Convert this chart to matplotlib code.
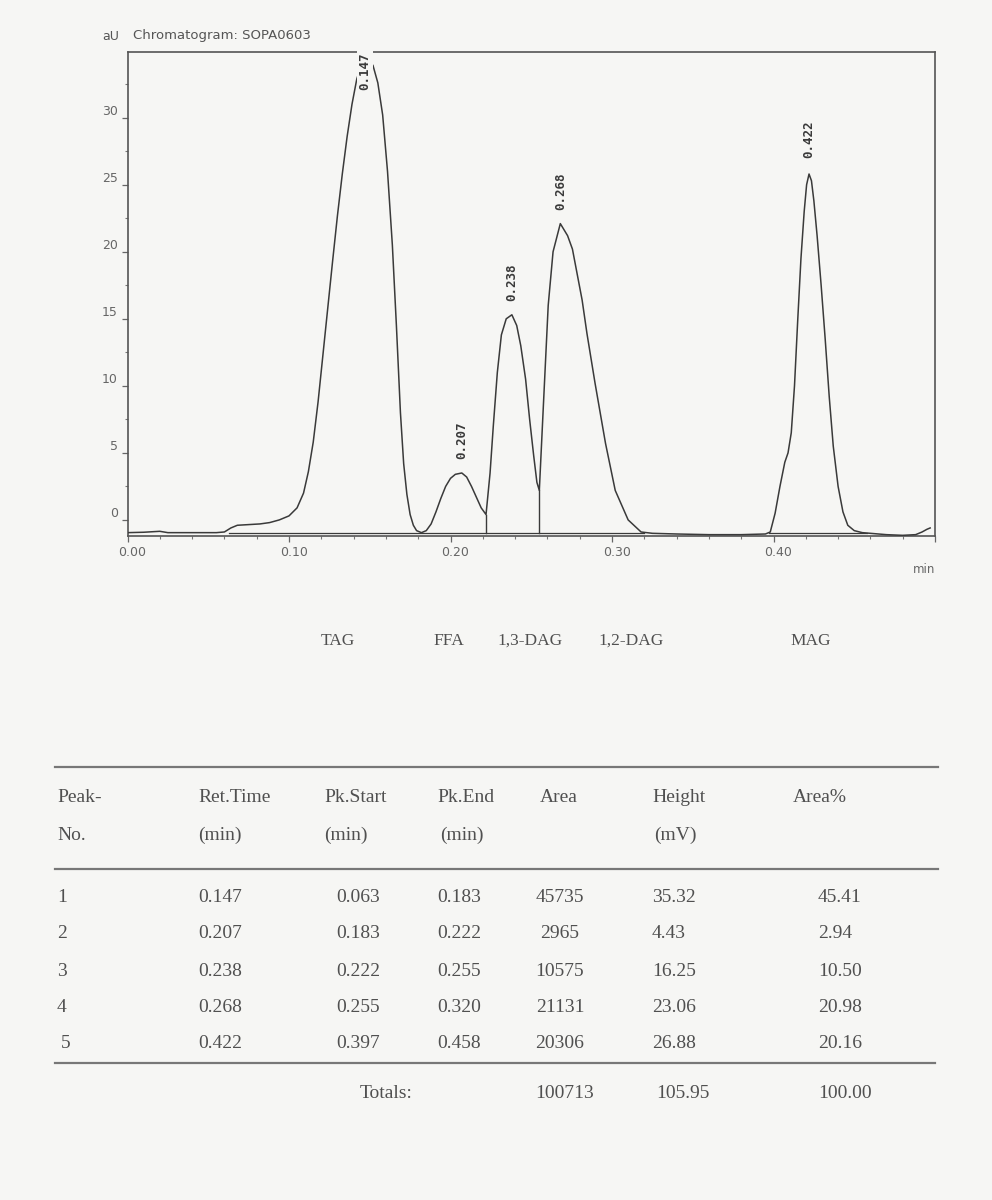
import matplotlib
matplotlib.use("Agg")
import matplotlib.pyplot as plt
import matplotlib.transforms as mtrans
import numpy as np

# trace (min, signal)
trace_t = [0.000, 0.010, 0.020, 0.025, 0.040, 0.055, 0.060, 0.064, 0.068, 0.075, 0.082, 0.088, 0.094,
           0.100, 0.105, 0.109, 0.112, 0.115, 0.118, 0.121, 0.124, 0.127, 0.130, 0.133, 0.136, 0.139,
           0.142, 0.145, 0.147, 0.149, 0.152, 0.155, 0.158, 0.161, 0.164, 0.1665, 0.169, 0.171, 0.173,
           0.175, 0.177, 0.179, 0.182,
           0.185, 0.188, 0.191, 0.194, 0.197, 0.200, 0.203, 0.207, 0.210, 0.213, 0.216, 0.219, 0.222,
           0.2245, 0.2265, 0.229, 0.2315, 0.2345, 0.238, 0.241, 0.2435, 0.2465, 0.249, 0.2515, 0.2535, 0.255,
           0.2575, 0.2605, 0.2635, 0.268, 0.2725, 0.2755, 0.2815, 0.2845, 0.2895, 0.296, 0.302, 0.310, 0.318,
           0.325, 0.340, 0.360, 0.380, 0.395, 0.398,
           0.401, 0.404, 0.407, 0.409, 0.411, 0.413, 0.415, 0.417, 0.419, 0.4205, 0.422, 0.4235, 0.425,
           0.427, 0.4295, 0.432, 0.4345, 0.437, 0.440, 0.443, 0.446, 0.450, 0.455, 0.460, 0.470, 0.480,
           0.488, 0.492, 0.495, 0.497]
trace_v = [-0.95, -0.92, -0.85, -0.95, -0.95, -0.95, -0.9, -0.6, -0.4, -0.35, -0.3, -0.2, 0.0,
           0.3, 0.9, 2.0, 3.6, 5.8, 8.8, 12.3, 15.8, 19.3, 22.7, 25.8, 28.6, 31.0,
           32.9, 34.0, 34.4, 34.3, 33.9, 32.6, 30.2, 26.0, 20.5, 14.5, 8.0, 4.2, 1.9,
           0.4, -0.4, -0.8, -0.95,
           -0.8, -0.3, 0.6, 1.6, 2.5, 3.1, 3.4, 3.5, 3.2, 2.5, 1.7, 0.9, 0.4,
           3.5, 7.0, 11.0, 13.8, 15.0, 15.3, 14.5, 13.0, 10.5, 7.5, 4.8, 2.8, 2.2,
           8.5, 16.0, 20.0, 22.1, 21.2, 20.2, 16.4, 13.9, 10.2, 5.7, 2.2, 0.0, -0.9,
           -1.0, -1.05, -1.1, -1.1, -1.05, -0.9,
           0.5, 2.5, 4.3, 5.0, 6.5, 10.0, 14.9, 19.5, 23.0, 25.0, 25.8, 25.3, 23.8,
           21.2, 17.5, 13.5, 9.2, 5.5, 2.5, 0.6, -0.4, -0.8, -0.95, -1.0, -1.1, -1.15,
           -1.1, -0.9, -0.7, -0.6]

# peak table
peak_no = ["1", "2", "3", "4", "5"]
ret_time = [0.147, 0.207, 0.238, 0.268, 0.422]
pk_start = [0.063, 0.183, 0.222, 0.255, 0.397]
pk_end = [0.183, 0.222, 0.255, 0.320, 0.458]
area = [45735, 2965, 10575, 21131, 20306]
height = [35.32, 4.43, 16.25, 23.06, 26.88]
area_pct = [45.41, 2.94, 10.50, 20.98, 20.16]
totals = ["100713", "105.95", "100.00"]
components = ["TAG", "FFA", "1,3-DAG", "1,2-DAG", "MAG"]
baseline_level = -0.95

W, H = 992, 1200
bg = "#f6f6f4"
ink = "#3a3a3a"
txt = "#505050"

fig = plt.figure(figsize=(W / 100, H / 100), dpi=100, facecolor=bg)


def fx(px):
    return px / W


def fy(py):
    return 1 - py / H


ax = fig.add_axes([fx(127.5), fy(536), fx(935) - fx(127.5), fy(52) - fy(536)])
ax.set_facecolor(bg)
ax.plot(trace_t, trace_v, color=ink, lw=1.1, zorder=3)

# integration baseline and drop lines
ax.plot([pk_start[0], pk_end[3]], [baseline_level, baseline_level], color=ink, lw=0.9, zorder=2)
ax.plot([pk_start[4], pk_end[4]], [baseline_level, baseline_level], color=ink, lw=0.9, zorder=2)
for t in [pk_end[1], pk_end[2]]:
    i = trace_t.index(t)
    ax.plot([t, t], [baseline_level, trace_v[i]], color=ink, lw=1.0, zorder=2)

ax.set_xlim(0, 0.50)
ax.set_ylim(-1.2, 34.9)
ax.set_xticks([0.0, 0.1, 0.2, 0.3, 0.4, 0.5])
ax.set_xticklabels(["0.00", "0.10", "0.20", "0.30", "0.40", ""])
ax.set_xticks(np.arange(0, 0.501, 0.02), minor=True)
ax.set_yticks([0, 5, 10, 15, 20, 25, 30])
ax.set_yticks(np.arange(0, 34, 2.5), minor=True)
ax.tick_params(axis="both", which="major", direction="out", length=4, width=0.9,
               colors="#666666", labelsize=9, pad=3)
ax.tick_params(axis="both", which="minor", direction="out", length=2.5, width=0.8, colors="#777777")
shift = mtrans.ScaledTranslation(5 / 100, 0, fig.dpi_scale_trans)
for lab in ax.get_xticklabels():
    lab.set_transform(lab.get_transform() + shift)
for lab in ax.get_yticklabels():
    lab.set_verticalalignment("bottom")
for s in ax.spines.values():
    s.set_color("#555555")
    s.set_linewidth(1.2)
ax.text(0.5, -3.2, "min", ha="right", va="top", fontsize=8.5, color="#666666")

# retention time labels
for rt, h in zip(ret_time, height):
    pv = h + baseline_level
    if pv > 30:
        ax.text(rt, 34.9, f"{rt:.3f}", rotation=90, ha="center", va="top",
                family="DejaVu Sans Mono", fontweight="bold", fontsize=9, color=ink, zorder=5,
                bbox=dict(boxstyle="square,pad=0.1", fc=bg, ec="none"), clip_on=False)
    else:
        ax.annotate(f"{rt:.3f}", (rt, pv), xytext=(0, 10), textcoords="offset points",
                    rotation=90, ha="center", va="bottom", family="DejaVu Sans Mono",
                    fontweight="bold", fontsize=9, color=ink)

fig.text(fx(102), fy(36), "aU", fontsize=9, color="#555555", va="center")
fig.text(fx(133), fy(35), "Chromatogram: SOPA0603", fontsize=9.5, color="#555555", va="center")

# component names under the chart
comp_x = [338, 449, 530, 631, 811]
for name, x in zip(components, comp_x):
    fig.text(fx(x), fy(641), name, ha="center", va="center", family="Liberation Serif",
             fontsize=12.5, color=txt)

# peak table
serif = dict(family="Liberation Serif", fontsize=14, color=txt, va="center")
rule = dict(color="#777777", lw=1.6)
fig.add_artist(plt.Line2D([fx(55), fx(938)], [fy(767), fy(767)], transform=fig.transFigure, **rule))
fig.add_artist(plt.Line2D([fx(55), fx(938)], [fy(869), fy(869)], transform=fig.transFigure, **rule))
fig.add_artist(plt.Line2D([fx(55), fx(935)], [fy(1063), fy(1063)], transform=fig.transFigure, **rule))

head1 = ["Peak-", "Ret.Time", "Pk.Start", "Pk.End", "Area", "Height", "Area%"]
head2 = ["No.", "(min)", "(min)", "(min)", "", "(mV)", ""]
head_x = [57, 198, 324, 437, 540, 652, 793]
head2_x = [57, 198, 324, 440, 540, 654, 793]
for s1, s2, x1, x2 in zip(head1, head2, head_x, head2_x):
    fig.text(fx(x1), fy(797), s1, ha="left", **serif)
    fig.text(fx(x2), fy(835), s2, ha="left", **serif)

row_y = [897, 934, 971, 1008, 1043]
for i in range(len(peak_no)):
    y = fy(row_y[i])
    fig.text(fx(57 if i < 4 else 61), y, peak_no[i], ha="left", **serif)
    fig.text(fx(198), y, f"{ret_time[i]:.3f}", ha="left", **serif)
    fig.text(fx(336), y, f"{pk_start[i]:.3f}", ha="left", **serif)
    fig.text(fx(437), y, f"{pk_end[i]:.3f}", ha="left", **serif)
    fig.text(fx(560), y, f"{area[i]}", ha="center", **serif)
    fig.text(fx(652), y, f"{height[i]:.2f}", ha="left", **serif)
    fig.text(fx(818), y, f"{area_pct[i]:.2f}", ha="left", **serif)

fig.text(fx(360), fy(1093), "Totals:", ha="left", **serif)
fig.text(fx(565), fy(1093), totals[0], ha="center", **serif)
fig.text(fx(656), fy(1093), totals[1], ha="left", **serif)
fig.text(fx(818), fy(1093), totals[2], ha="left", **serif)

fig.savefig("out.png", dpi=100, facecolor=bg)
